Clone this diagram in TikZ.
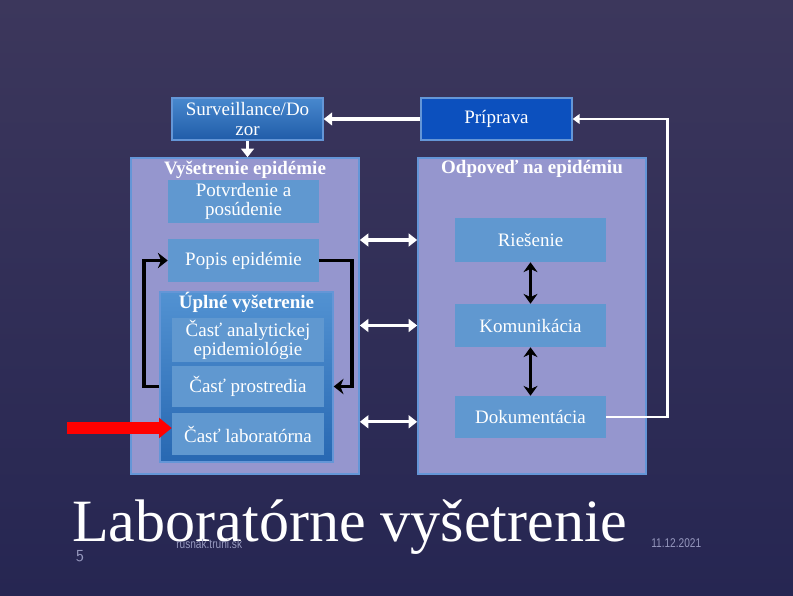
\documentclass[tikz,border=0pt]{standalone}
\usepackage{fontspec}
\setmainfont{Liberation Serif}
\newfontfamily\narrowsans[FakeStretch=0.8]{Liberation Sans}
\usepackage{tikz}
\usetikzlibrary{arrows.meta, positioning, calc}

\definecolor{BgTop}{RGB}{60,55,92}
\definecolor{BgBot}{RGB}{38,38,82}
\definecolor{PanelFill}{RGB}{149,150,206}
\definecolor{PanelEdge}{RGB}{100,150,215}
\definecolor{ItemFill}{RGB}{96,152,208}
\definecolor{SurvTop}{RGB}{72,136,206}
\definecolor{SurvBot}{RGB}{32,92,168}
\definecolor{PripFill}{RGB}{12,80,190}
\definecolor{UplneTop}{RGB}{82,146,210}
\definecolor{UplneBot}{RGB}{40,104,178}
\definecolor{FootGray}{RGB}{150,152,190}

\begin{document}
\begin{tikzpicture}[x=0.025cm, y=-0.025cm,
  boxsize/.style 2 args={minimum width=#1*0.025cm, minimum height=#2*0.025cm},
  panel/.style={draw=PanelEdge, line width=1.2pt, fill=PanelFill, inner sep=0pt},
  item/.style={fill=ItemFill, text=white, align=center, inner sep=0pt,
    font=\fontsize{13.5}{14}\selectfont},
  head/.style={text=white, font=\fontsize{13.5}{14}\selectfont\bfseries},
  warr/.style={-{Triangle[width=9pt,length=6pt]}, line width=2.4pt, white},
  wdarr/.style={{Triangle[width=9pt,length=6pt]}-{Triangle[width=9pt,length=6pt]},
    line width=2.4pt, white},
  barr/.style={-{Stealth[width=11pt,length=7pt]}, line width=2.6pt, black},
  bdarr/.style={{Stealth[width=10pt,length=7pt]}-{Stealth[width=10pt,length=7pt]},
    line width=2.6pt, black},
  redarr/.style={-{Triangle[width=14pt,length=9pt]}, line width=8pt, red},
  foot/.style={text=FootGray, font=\narrowsans\fontsize{9}{10}\selectfont},
]

\useasboundingbox (0,0) rectangle (793,596);
\shade[top color=BgTop, bottom color=BgBot] (0,0) rectangle (793,596);

% panels
\node[panel, boxsize={228}{316}] (vys) at (245,316) {};
\node[panel, boxsize={228}{316}] (odp) at (532,316) {};
\node[head] (vyshead) at (245,170) {Vyšetrenie epidémie};
\node[head] (odphead) at (532,169) {Odpoveď na epidémiu};

\node[item, boxsize={151}{42}, top color=SurvTop, bottom color=SurvBot,
  draw=PanelEdge, line width=1pt] (surv) at (247.5,119) {Surveillance/Do\\zor};
\node[item, boxsize={151}{42}, fill=PripFill, draw=PanelEdge, line width=1pt]
  (prip) at (496.5,119) {Príprava};

\node[item, boxsize={151}{43}] (potv) at (243.5,201.5) {Potvrdenie a\\posúdenie};
\node[item, boxsize={151}{43}] (popis) at (243.5,260.5) {Popis epidémie};

\node[boxsize={173}{170}, top color=UplneTop, bottom color=UplneBot,
  draw=PanelEdge, line width=1pt, inner sep=0pt] (uplne) at (246.5,377) {};
\node[head] (uplnehead) at (246.5,302) {Úplné vyšetrenie};
\node[item, boxsize={152}{44}] (anal) at (248,340) {Časť analytickej\\epidemiológie};
\node[item, boxsize={152}{41}] (prost) at (248,386.5) {Časť prostredia};
\node[item, boxsize={152}{42}] (lab) at (248,434) {Časť laboratórna};

\node[item, boxsize={151}{44}] (ries) at (530.5,240) {Riešenie};
\node[item, boxsize={151}{43}] (kom) at (530.5,325.5) {Komunikácia};
\node[item, boxsize={151}{42}] (dok) at (530.5,417) {Dokumentácia};

% connectors
\draw[warr] (surv.south) -- (surv.south |- vys.north);
\draw[warr] (prip.west) -- (surv.east);
\draw[wdarr] (vys.east |- ries.west) -- (odp.west |- ries.west);
\draw[wdarr] (vys.east |- kom.west) -- (odp.west |- kom.west);
\draw[wdarr] ([yshift=-0.12cm]vys.east |- dok.west) -- ([yshift=-0.12cm]odp.west |- dok.west);
\draw[bdarr] (ries.south) -- (kom.north);
\draw[bdarr] (kom.south) -- (dok.north);
\draw[barr] (uplne.west |- prost.west) -- ++(-15,0) |- (popis.west);
\draw[barr] (popis.east) -- ++(33,0) |- (uplne.east |- prost.east);
\draw[white, line width=2pt, -{Triangle[width=7pt,length=5pt]}]
  (dok.east) -- ++(61,0) |- (prip.east);
\coordinate (redtail) at (67,428);
\draw[redarr] (redtail) -- (redtail -| lab.west);

% footer
\node[anchor=base west, text=white, font=\fontsize{42.7}{44}\selectfont, inner sep=0pt]
  (title) at (72,541) {Laboratórne vyšetrenie};
\node[foot, font=\sffamily\fontsize{12}{13}\selectfont] (num) at (80,556) {5};
\node[foot, anchor=west, inner sep=0pt] (web) at (176,544) {rusnak.truni.sk};
\node[foot, anchor=west, inner sep=0pt] (date) at (651,543) {11.12.2021};

\end{tikzpicture}
\end{document}
